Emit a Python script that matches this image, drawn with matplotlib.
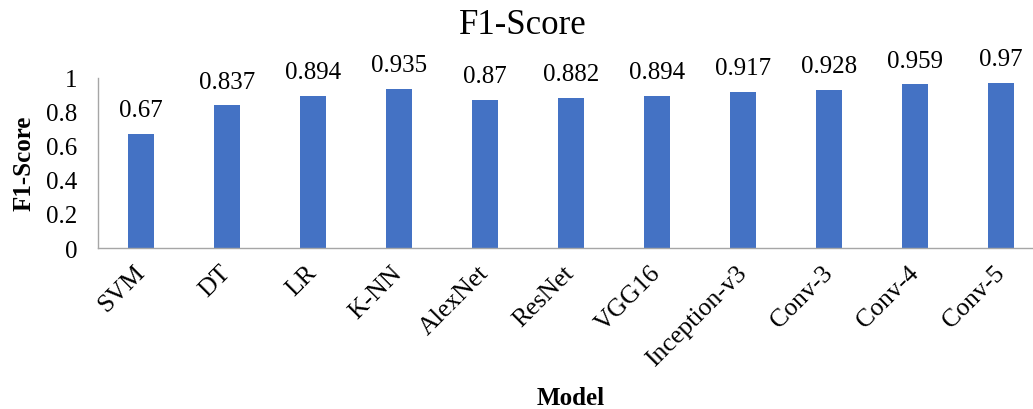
import matplotlib
matplotlib.use("Agg")
import matplotlib.pyplot as plt

models = ["SVM", "DT", "LR", "K-NN", "AlexNet", "ResNet", "VGG16",
          "Inception-v3", "Conv-3", "Conv-4", "Conv-5"]
f1_scores = [0.67, 0.837, 0.894, 0.935, 0.87, 0.882, 0.894, 0.917, 0.928, 0.959, 0.97]
value_labels = ["0.67", "0.837", "0.894", "0.935", "0.87", "0.882", "0.894",
                "0.917", "0.928", "0.959", "0.97"]
yticks = [0, 0.2, 0.4, 0.6, 0.8, 1]
ytick_labels = ["0", "0.2", "0.4", "0.6", "0.8", "1"]

plt.rcParams["font.family"] = ["Liberation Serif", "DejaVu Serif"]

W, H = 1033, 410
fig = plt.figure(figsize=(W / 100, H / 100), dpi=100)
# plot area extends past the right edge of the image (as in the reference)
left_px, right_px, top_px, bottom_px = 98, 1044, 78.5, 249
ax = fig.add_axes([left_px / W, (H - bottom_px) / H,
                   (right_px - left_px) / W, (bottom_px - top_px) / H])

x = list(range(len(models)))
bars = ax.bar(x, f1_scores, width=0.30, color="#4472C4", zorder=2)
ax.set_xlim(-0.5, len(models) - 0.5)
ax.set_ylim(0, 1)

for xi, v, lab in zip(x, f1_scores, value_labels):
    ax.annotate(lab, (xi, v), xytext=(0, 9), textcoords="offset points",
                ha="center", va="bottom", fontsize=18, color="black")

ax.set_yticks(yticks)
ax.set_yticklabels(ytick_labels, fontsize=18)
ax.set_xticks(x)
ax.set_xticklabels(models, fontsize=18.5, rotation=45, ha="right",
                   va="center", rotation_mode="anchor")
ax.tick_params(axis="both", length=0)
ax.tick_params(axis="y", pad=15)
ax.tick_params(axis="x", pad=15)

for s in ["top", "right"]:
    ax.spines[s].set_visible(False)
ax.spines["left"].set_color("#A6A6A6")
ax.spines["bottom"].set_color("#A6A6A6")
ax.spines["left"].set_linewidth(1.0)
ax.spines["bottom"].set_linewidth(1.0)

ax.set_ylabel("F1-Score", fontsize=18, fontweight="bold")
ax.yaxis.set_label_coords(24 / W, (H - 163) / H, transform=fig.transFigure)
ax.set_xlabel("Model", fontsize=18, fontweight="bold")
ax.xaxis.set_label_coords(571 / W, (H - 399) / H, transform=fig.transFigure)
ax.xaxis.label.set_va("center")
ax.yaxis.label.set_va("center")

fig.text(523 / W, (H - 26) / H, "F1-Score", ha="center", va="center", fontsize=25)

fig.savefig("out.png", dpi=100)
